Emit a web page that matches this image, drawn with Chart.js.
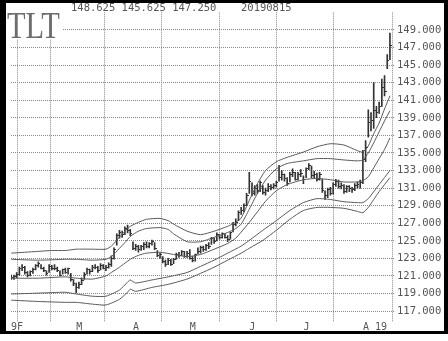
<!DOCTYPE html>
<html>
<head>
<meta charset="utf-8">
<script src="https://cdn.jsdelivr.net/npm/chart.js@4.4.0/dist/chart.umd.min.js"></script>
<style>
body { margin: 0; background: #fff; }
#marco { position: absolute; left: 0; top: 0; width: 438px; height: 328px; border-style: solid; border-color: #000; border-width: 3px 4px 3px 6px; }
canvas { display: block; }
</style>
</head>
<body>
<div id="marco"><canvas id="grafico" width="438" height="328"></canvas></div>
<script>
// DATOS - TLT diario, sesion 0 = 25 ene 2019 ... sesion 140 = 15 ago 2019
var simbolo = 'TLT';
var fecha = '20190815';

var maximos = [
    121.1, 121.1, 121.4, 122.0, 122.3,
    122.1, 121.5, 121.6, 121.9, 122.3, 122.6, 122.3, 122.0, 121.6, 122.3, 122.2, 122.3, 122.0, 121.6, 121.8, 121.9, 121.9, 121.3, 120.6,
    120.2, 120.3, 120.8, 121.4, 121.9, 121.8, 122.2, 122.3, 122.1, 122.4, 122.3, 122.2, 122.5, 123.3, 124.2, 125.8, 126.2, 126.1, 126.6, 126.8, 126.3,
    124.9, 124.6, 124.5, 124.5, 124.8, 124.9, 124.8, 125.1, 124.8, 123.9, 123.6, 123.2, 122.8, 123.0, 122.9, 123.0, 123.6, 123.7, 123.9, 123.8, 123.8,
    124.0, 123.2, 123.5, 124.2, 124.4, 124.4, 124.6, 124.8, 125.4, 125.3, 125.9, 125.7, 125.9, 125.8, 125.6, 126.0, 127.1, 127.5, 128.4, 128.8, 129.2, 130.4,
    132.8, 131.6, 131.3, 131.4, 131.8, 131.3, 131.0, 131.5, 131.4, 131.5, 131.8, 133.6, 133.0, 132.6, 132.2, 132.8, 133.2, 132.8, 132.8, 133.1,
    132.4, 133.3, 133.8, 133.5, 132.9, 132.7, 132.8, 132.0, 130.7, 131.0, 131.1, 131.6, 132.0, 131.9, 131.6, 131.4, 131.3, 131.3, 131.1, 131.5, 131.7, 131.9,
    135.3, 136.4, 139.9, 139.6, 143.0, 140.3, 140.8, 143.4, 143.8, 146.2, 148.625
];
var minimos = [
    120.6, 120.6, 120.8, 121.1, 121.6,
    121.2, 120.9, 121.0, 121.3, 121.7, 122.0, 121.8, 121.5, 121.1, 121.4, 121.7, 121.7, 121.5, 121.0, 121.2, 121.3, 121.2, 120.4, 119.9,
    119.1, 119.6, 120.0, 120.6, 121.2, 121.2, 121.5, 121.8, 121.4, 121.7, 121.8, 121.6, 121.9, 122.1, 122.9, 124.5, 125.3, 125.4, 125.7, 125.9, 125.6,
    124.0, 123.9, 123.7, 123.9, 124.0, 124.2, 124.2, 124.5, 124.0, 123.2, 123.0, 122.5, 122.1, 122.3, 122.2, 122.4, 122.9, 123.1, 123.3, 123.1, 123.1,
    122.9, 122.6, 122.7, 123.5, 123.6, 123.8, 123.9, 124.1, 124.6, 124.7, 125.0, 125.2, 125.3, 125.3, 124.9, 125.2, 126.0, 126.7, 127.3, 128.0, 128.3, 129.0,
    130.4, 130.1, 130.2, 130.4, 130.6, 130.3, 130.2, 130.6, 130.8, 130.9, 131.1, 131.8, 131.9, 131.8, 131.3, 131.7, 132.3, 131.9, 131.9, 132.3,
    131.5, 132.2, 133.1, 132.2, 132.2, 131.8, 131.9, 130.5, 129.7, 129.9, 130.2, 130.3, 131.2, 131.0, 130.9, 130.4, 130.5, 130.6, 130.5, 130.7, 131.0, 131.0,
    131.5, 134.0, 136.8, 137.5, 137.8, 139.0, 139.5, 140.3, 141.5, 144.6, 145.625
];
var cierres = [
    120.8, 120.9, 121.2, 121.8, 122.0,
    121.4, 121.1, 121.5, 121.7, 122.2, 122.4, 121.9, 121.6, 121.3, 122.1, 121.9, 121.9, 121.6, 121.1, 121.7, 121.4, 121.8, 120.6, 120.2,
    119.7, 120.0, 120.5, 121.2, 121.7, 121.5, 122.0, 122.0, 121.6, 122.2, 121.9, 122.0, 122.3, 123.0, 124.0, 125.6, 125.9, 125.7, 126.4, 126.2, 125.8,
    124.1, 124.4, 124.0, 124.3, 124.6, 124.3, 124.7, 124.9, 124.1, 123.3, 123.4, 122.6, 122.3, 122.8, 122.3, 122.9, 123.5, 123.3, 123.8, 123.2, 123.6,
    123.0, 122.8, 123.4, 123.8, 124.2, 124.0, 124.5, 124.3, 125.3, 124.9, 125.7, 125.4, 125.8, 125.4, 125.1, 125.9, 126.9, 127.1, 128.2, 128.5, 129.0, 130.2,
    131.8, 130.4, 131.0, 130.7, 131.6, 130.5, 130.7, 131.2, 131.1, 131.3, 131.6, 132.2, 132.6, 132.1, 131.5, 132.6, 132.8, 132.0, 132.6, 132.7,
    132.0, 133.2, 133.6, 132.4, 132.5, 132.0, 132.6, 130.7, 130.2, 130.8, 130.4, 131.4, 131.7, 131.2, 131.3, 130.6, 131.2, 130.9, 130.8, 131.3, 131.4, 131.6,
    134.3, 135.6, 138.5, 138.7, 139.8, 139.6, 140.3, 142.5, 142.0, 145.5, 147.25
];

// Bandas: [sesion, precio]
var bandaSup2 = [[0,123.6],[5,123.7],[10,123.8],[15,123.9],[20,123.9],[24,124.05],[30,124.05],[35,124.05],[37,124.4],[40,125.4],[42,126.1],[44,126.65],[47,127.1],[50,127.45],[55,127.55],[58,127.3],[60,126.9],[65,126.1],[70,125.7],[75,126.1],[80,126.65],[83,127.1],[85,127.6],[88,129.6],[91,131.5],[94,133.0],[98,134.0],[102,134.5],[108,135.1],[113,135.7],[118,136.05],[123,135.9],[128,135.25],[130,135.1],[132,135.8],[134,137.2],[136,138.4],[138,140.0],[140,141.5]];
var bandaSup1 = [[0,122.9],[10,122.8],[20,122.9],[24,122.9],[30,122.8],[35,122.9],[37,123.2],[40,124.15],[42,124.8],[44,125.5],[47,126.1],[50,126.4],[55,126.5],[58,126.3],[60,125.8],[65,124.9],[70,124.9],[75,125.4],[80,125.95],[83,126.4],[85,126.9],[88,128.6],[91,130.4],[94,131.9],[98,133.2],[102,133.8],[108,134.1],[113,134.35],[118,134.35],[123,134.2],[128,134.1],[130,134.2],[132,135.0],[134,136.15],[136,137.4],[138,138.65],[140,139.8]];
var media = [[0,120.75],[10,120.75],[20,120.9],[24,120.75],[30,120.65],[35,121.0],[37,121.4],[40,122.0],[42,122.45],[44,122.9],[47,123.35],[50,123.6],[55,123.7],[60,123.45],[65,123.2],[70,123.45],[75,124.05],[80,124.7],[83,125.3],[85,126.0],[88,127.1],[91,128.3],[94,129.5],[98,130.7],[102,131.4],[108,131.95],[113,132.1],[118,131.95],[123,131.7],[128,131.7],[130,131.85],[132,132.3],[134,133.3],[136,134.35],[138,135.4],[140,136.7]];
var bandaInf1 = [[0,118.95],[10,119.05],[20,119.15],[24,118.95],[30,118.7],[35,118.7],[40,119.4],[43,120.3],[44,120.55],[46,120.2],[52,120.55],[58,120.9],[65,121.4],[70,122.1],[75,122.8],[80,123.6],[85,124.4],[88,125.05],[93,126.2],[98,127.3],[103,128.45],[108,129.35],[113,129.8],[118,129.7],[123,129.45],[128,129.35],[130,129.35],[132,129.8],[134,130.6],[136,131.4],[138,132.2],[140,133.0]];
var bandaInf2 = [[0,118.25],[10,118.1],[20,118.0],[24,118.0],[30,117.8],[35,117.7],[40,118.35],[43,119.15],[44,119.5],[46,119.25],[52,119.7],[58,120.05],[65,120.65],[70,121.3],[75,122.0],[80,122.8],[85,123.6],[88,124.15],[93,125.05],[98,126.2],[103,127.45],[108,128.45],[113,128.8],[118,128.8],[123,128.7],[128,128.35],[130,128.2],[132,128.8],[134,129.7],[136,130.6],[138,131.4],[140,132.2]];

// Ejes
var inicioMes = [5, 24, 45, 66, 88, 108, 130];
var nombresMes = ['', 'M', 'A', 'M', 'J', 'J', 'A 19'];
var etiquetaInicio = '9F';
var preciosEje = [117, 119, 121, 123, 125, 127, 129, 131, 133, 135, 137, 139, 141, 143, 145, 147, 149];
var xMin = -0.1, xMax = 141.5;

// Marca del cierre (rayita a la derecha de la barra)
var marca = document.createElement('canvas');
marca.width = 4;
marca.height = 1;
var mctx = marca.getContext('2d');
mctx.fillStyle = '#333';
mctx.fillRect(2, 0, 2, 1);

function aPuntos(lista) {
    return lista.map(function (p) { return { x: p[0], y: p[1] }; });
}

function banda(lista) {
    return {
        type: 'line',
        data: aPuntos(lista),
        borderColor: '#5a5a5a',
        borderWidth: 1,
        pointRadius: 0,
        tension: 0.2,
        fill: false
    };
}

// Textos: simbolo y cabecera
var textos = {
    id: 'textos',
    afterDraw: function (chart) {
        var c = chart.ctx;
        var ult = maximos.length - 1;
        c.save();
        c.fillStyle = '#fff';
        c.fillRect(0, 0, 57, 36);
        c.fillStyle = '#6e6e6e';
        c.font = '38px "Liberation Serif"';
        c.textBaseline = 'alphabetic';
        c.translate(1, 35);
        c.scale(0.8, 1);
        c.fillText(simbolo, 0, 0);
        c.restore();

        c.save();
        c.fillStyle = '#555';
        c.font = '10.5px "DejaVu Sans Mono"';
        c.textBaseline = 'alphabetic';
        var cabecera = [maximos[ult], minimos[ult], cierres[ult]].map(function (v) { return v.toFixed(3); }).join(' ');
        c.fillText(cabecera, 65, 8);
        c.fillText(fecha, 235, 8);
        c.restore();
    }
};

var ctx = document.getElementById('grafico').getContext('2d');

var grafico = new Chart(ctx, {
    type: 'bar',
    data: {
        datasets: [
            banda(bandaSup2),
            banda(bandaSup1),
            banda(media),
            banda(bandaInf1),
            banda(bandaInf2),
            {
                type: 'bar',
                data: maximos.map(function (h, i) { return { x: i, y: [minimos[i], h] }; }),
                backgroundColor: '#333',
                barThickness: 1,
                grouped: false
            },
            {
                type: 'scatter',
                data: cierres.map(function (c, i) { return { x: i, y: c }; }),
                pointStyle: marca,
                pointRadius: 1
            }
        ]
    },
    options: {
        responsive: false,
        animation: false,
        events: [],
        layout: { padding: { top: 8, left: 0, right: 0, bottom: 0 } },
        plugins: {
            legend: { display: false },
            tooltip: { enabled: false }
        },
        scales: {
            x: {
                type: 'linear',
                min: xMin,
                max: xMax,
                offset: false,
                afterBuildTicks: function (eje) {
                    eje.ticks = [{ value: xMin }].concat(inicioMes.map(function (v) { return { value: v }; }));
                },
                afterFit: function (eje) { eje.height = 9; },
                grid: {
                    color: function (c) { return c.tick && c.tick.value === xMin ? 'rgba(0,0,0,0)' : '#888'; },
                    lineWidth: 1,
                    drawTicks: false
                },
                border: { display: false, dash: [1, 1] },
                ticks: {
                    autoSkip: false,
                    maxRotation: 0,
                    align: 'start',
                    padding: 0,
                    color: '#555',
                    font: { family: 'DejaVu Sans Mono', size: 10 },
                    callback: function (valor, indice) {
                        return indice === 0 ? etiquetaInicio : nombresMes[indice - 1];
                    }
                }
            },
            y: {
                type: 'linear',
                position: 'right',
                min: 115.8,
                max: 151,
                afterBuildTicks: function (eje) {
                    eje.ticks = preciosEje.map(function (v) { return { value: v }; });
                },
                afterFit: function (eje) { eje.width = 50; },
                grid: { color: '#888', lineWidth: 1, drawTicks: false },
                border: { display: false, dash: [1, 1] },
                ticks: {
                    padding: 3,
                    color: '#555',
                    font: { family: 'DejaVu Sans Mono', size: 10.5 },
                    callback: function (valor) { return valor.toFixed(3); }
                }
            }
        }
    },
    plugins: [textos]
});
</script>
</body>
</html>
